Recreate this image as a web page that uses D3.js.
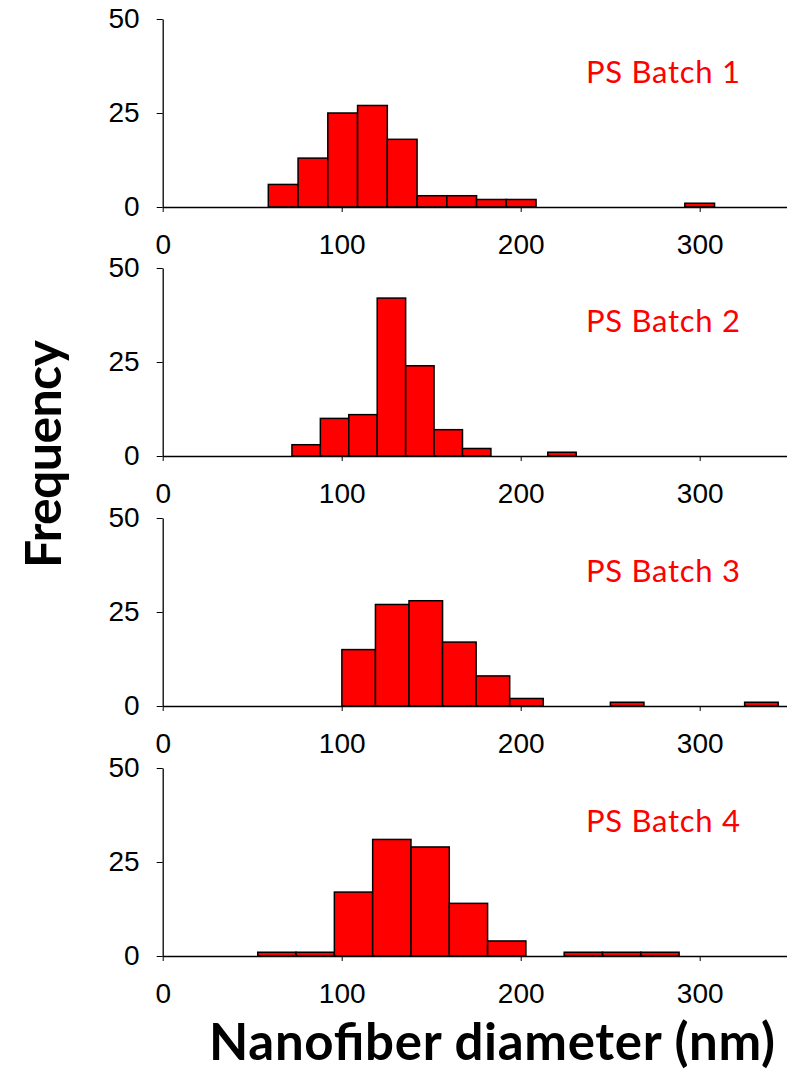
<!DOCTYPE html>
<html>
<head>
<meta charset="utf-8">
<script src="https://cdn.jsdelivr.net/npm/d3@7"></script>
<style>
  body { margin: 0; background: #fff; }
  svg { display: block; }
</style>
</head>
<body>
<div id="chart"></div>
<script>
// histogram data (diameter in nm, counts per bin)
const batchNames = ['PS Batch 1', 'PS Batch 2', 'PS Batch 3', 'PS Batch 4'];
const binStart = [59.0, 72.2, 100.1, 53.1];
const binWidth = [16.62, 15.88, 18.75, 21.4];
const counts1 = [6, 13, 25, 27, 18, 3, 3, 2, 2, 0, 0, 0, 0, 0, 1];
const counts2 = [3, 10, 11, 42, 24, 7, 2, 0, 0, 1];
const counts3 = [15, 27, 28, 17, 8, 2, 0, 0, 1, 0, 0, 0, 1];
const counts4 = [1, 1, 17, 31, 29, 14, 4, 0, 1, 1, 1];
const allCounts = [counts1, counts2, counts3, counts4];
const xTicks = [0, 100, 200, 300];
const yTicks = [0, 25, 50];

const width = 787, height = 1091;
const panelTops = [19, 268, 518, 768];
const panelH = 188;
const left = 162.7;

const svg = d3.select('#chart').append('svg')
  .attr('width', width)
  .attr('height', height);

const x = d3.scaleLinear()
  .domain([0, 350])
  .range([left, left + 350 * 1.79]);

const numFont = '"Liberation Sans", Arial, sans-serif';

batchNames.forEach((name, p) => {
  const y = d3.scaleLinear()
    .domain([0, 50])
    .range([panelTops[p] + panelH, panelTops[p]]);

  const bins = allCounts[p].map((c, i) => ({
    x0: binStart[p] + i * binWidth[p],
    x1: binStart[p] + (i + 1) * binWidth[p],
    n: c
  })).filter(d => d.n > 0);

  const g = svg.append('g');

  // bars
  g.selectAll('rect')
    .data(bins)
    .enter().append('rect')
    .attr('x', d => x(d.x0))
    .attr('width', d => x(d.x1) - x(d.x0))
    .attr('y', d => y(d.n))
    .attr('height', d => y(0) - y(d.n))
    .attr('fill', '#ff0000')
    .attr('stroke', '#000')
    .attr('stroke-width', 1.5);

  // x axis
  const xa = g.append('g')
    .attr('transform', 'translate(0,' + y(0) + ')')
    .call(d3.axisBottom(x).tickValues(xTicks).tickSize(5).tickPadding(22).tickSizeOuter(0));
  xa.select('.domain').attr('stroke-width', 1.3);

  // y axis
  const ya = g.append('g')
    .attr('transform', 'translate(' + left + ',0)')
    .call(d3.axisLeft(y).tickValues(yTicks).tickSize(6).tickPadding(17).tickSizeOuter(0));
  ya.select('.domain').attr('stroke-width', 1.3);

  g.selectAll('.tick text')
    .style('font-family', numFont)
    .style('font-size', '28px')
    .attr('fill', '#000');

  // batch label
  g.append('text')
    .attr('x', 586)
    .attr('y', y(33))
    .attr('font-family', 'Lato, "Open Sans", sans-serif')
    .attr('font-size', 31)
    .attr('fill', '#ff0000')
    .attr('textLength', 154)
    .text(name);
});

svg.append('text')
  .attr('transform', 'translate(61,454) rotate(-90)')
  .attr('text-anchor', 'middle')
  .attr('font-family', 'Lato, "Open Sans", sans-serif')
  .attr('font-weight', 'bold')
  .attr('font-size', 50)
  .attr('textLength', 228)
  .text('Frequency');

svg.append('text')
  .attr('x', 492)
  .attr('y', 1060)
  .attr('text-anchor', 'middle')
  .attr('font-family', 'Lato, "Open Sans", sans-serif')
  .attr('font-weight', 'bold')
  .attr('font-size', 51)
  .attr('textLength', 566)
  .text('Nanofiber diameter (nm)');
</script>
</body>
</html>
